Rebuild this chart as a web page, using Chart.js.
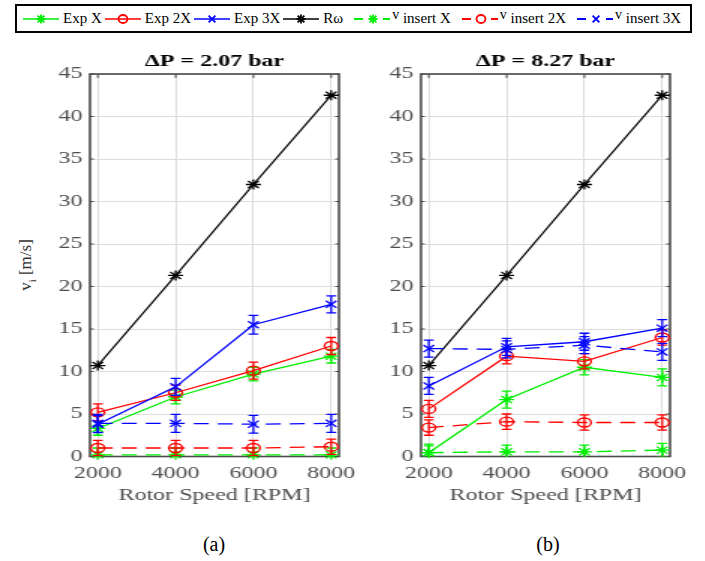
<!DOCTYPE html>
<html>
<head>
<meta charset="utf-8">
<title>Insert velocity vs rotor speed</title>
<script src="https://cdn.jsdelivr.net/npm/chart.js@4.4.1/dist/chart.umd.min.js"></script>
<style>
  html, body { margin: 0; padding: 0; background: #fff; }
  #fig { position: relative; width: 705px; height: 561px; overflow: hidden;
         font-family: "Liberation Serif", "Times New Roman", serif; color: #000; }
  .panel { position: absolute; top: 45px; width: 250px; height: 465px;
           transform: scaleX(1.5); transform-origin: 0 0; }
  .panel canvas { display: block; }
  #panelA { left: 0; }
  #panelB { left: 331px; }
  #legend { position: absolute; left: 15px; top: 4px; width: 677px; height: 29px;
            box-sizing: border-box; border: 2px solid #000; display: flex;
            align-items: center; padding-left: 6px; font-size: 15px; white-space: nowrap; }
  .item { display: flex; align-items: center; margin-right: 3px; }
  .item svg { margin-right: 4px; }
  .item.dashed svg { margin-right: 2px; }
  .vsym { position: relative; top: -4px; font-size: 14px; }
  #ylabel { position: absolute; left: 27px; top: 265px; transform: translate(-50%, -50%) rotate(-90deg);
            white-space: nowrap; font-size: 17px; color: #333; }
  #ylabel sub { font-size: 11px; }
  .caption { position: absolute; top: 533px; font-size: 20px; transform: translateX(-50%); }
</style>
</head>
<body>
<div id="fig">
  <div id="legend"></div>
  <div id="ylabel">v<sub>i</sub> [m/s]</div>
  <div class="panel" id="panelA"><canvas id="chartA" width="250" height="465"></canvas></div>
  <div class="panel" id="panelB"><canvas id="chartB" width="250" height="465"></canvas></div>
  <div class="caption" style="left:214px">(a)</div>
  <div class="caption" style="left:548px">(b)</div>
</div>
<script>
// Rotor speeds and axis ticks
const rpm = [2000, 4000, 6000, 8000];
const xTickLabels = ['2000', '4000', '6000', '8000'];
const yTicks = [0, 5, 10, 15, 20, 25, 30, 35, 40, 45];

// Series names
const seriesNames = ['Exp X', 'Exp 2X', 'Exp 3X', 'R\u03C9', 'insert X', 'insert 2X', 'insert 3X'];
const panelTitles = ['\u0394P = 2.07 bar', '\u0394P = 8.27 bar'];

// Tangential speed of the rotor surface (same for both pressures)
const rOmega = [10.7, 21.3, 32.0, 42.5];

// Panel (a): dP = 2.07 bar
const expX_A = [3.3, 7.0, 9.7, 11.8];
const expX_A_err = [0.8, 0.8, 0.8, 0.8];
const exp2X_A = [5.2, 7.5, 10.1, 13.0];
const exp2X_A_err = [1.0, 0.9, 1.0, 1.0];
const exp3X_A = [3.8, 8.2, 15.5, 17.9];
const exp3X_A_err = [1.0, 1.0, 1.1, 1.0];
const insX_A = [0.2, 0.2, 0.2, 0.2];
const insX_A_err = [0.8, 0.8, 0.8, 0.8];
const ins2X_A = [1.0, 1.0, 1.0, 1.15];
const ins2X_A_err = [0.9, 0.9, 0.9, 0.9];
const ins3X_A = [3.9, 3.9, 3.8, 3.9];
const ins3X_A_err = [1.05, 1.05, 1.05, 1.05];

// Panel (b): dP = 8.27 bar
const expX_B = [0.45, 6.7, 10.5, 9.3];
const expX_B_err = [1.0, 1.0, 0.9, 1.0];
const exp2X_B = [5.6, 11.8, 11.2, 14.0];
const exp2X_B_err = [1.0, 0.9, 0.9, 0.9];
const exp3X_B = [8.3, 12.9, 13.5, 15.1];
const exp3X_B_err = [1.0, 1.0, 1.0, 1.0];
const insX_B = [0.45, 0.55, 0.55, 0.75];
const insX_B_err = [0.8, 0.8, 0.8, 0.8];
const ins2X_B = [3.4, 4.1, 4.0, 4.0];
const ins2X_B_err = [0.9, 0.9, 0.9, 0.9];
const ins3X_B = [12.7, 12.6, 13.1, 12.3];
const ins3X_B_err = [1.0, 1.0, 1.0, 1.0];

const SERIF = '"Liberation Serif", "Times New Roman", serif';
const GREEN = '#00ee00', RED = '#ff0000', BLUE = '#0000ff', BLACK = '#000000';
const TICK_COLOR = '#4d4d4d';
const GRID_COLOR = '#dcdcdc';

// Line / marker style of each series, in legend order
const styles = [
  { color: GREEN, marker: 'star',     dashed: false },
  { color: RED,   marker: 'circle',   dashed: false },
  { color: BLUE,  marker: 'crossRot', dashed: false },
  { color: BLACK, marker: 'star',     dashed: false },
  { color: GREEN, marker: 'star',     dashed: true },
  { color: RED,   marker: 'circle',   dashed: true },
  { color: BLUE,  marker: 'crossRot', dashed: true }
];

function toPoints(values) {
  return rpm.map((r, i) => ({ x: r, y: values[i] }));
}

function buildDatasets(list) {
  // list: [values, errors] per series, in legend order
  return list.map(([values, errors], i) => {
    const st = styles[i];
    return {
      label: seriesNames[i],
      data: toPoints(values),
      errors: errors,
      borderColor: st.color,
      backgroundColor: 'rgba(0,0,0,0)',
      pointBackgroundColor: 'rgba(0,0,0,0)',
      pointBorderColor: st.color,
      pointStyle: st.marker,
      pointRadius: st.marker === 'circle' ? 4.5 : 5,
      pointBorderWidth: 1.3,
      borderWidth: 1.3,
      borderDash: st.dashed ? [10, 6] : [],
      tension: 0,
      clip: false,
      order: 10 - i
    };
  });
}

// Vertical error bars with caps
const errorBars = {
  id: 'errorBars',
  afterDatasetDraw(chart, args) {
    const ds = chart.data.datasets[args.index];
    if (!ds.errors) return;
    const { ctx, chartArea: a } = chart;
    const xs = chart.scales.x, ys = chart.scales.y;
    ctx.save();
    ctx.beginPath();
    ctx.rect(a.left, a.top, a.right - a.left, a.bottom - a.top);
    ctx.clip();
    ctx.strokeStyle = ds.borderColor;
    ctx.lineWidth = 1.3;
    ctx.setLineDash([]);
    const cap = 3.3;
    ds.data.forEach((p, i) => {
      const e = ds.errors[i];
      const px = xs.getPixelForValue(p.x);
      const top = ys.getPixelForValue(p.y + e);
      const bot = ys.getPixelForValue(p.y - e);
      ctx.beginPath();
      ctx.moveTo(px, top); ctx.lineTo(px, bot);
      ctx.moveTo(px - cap, top); ctx.lineTo(px + cap, top);
      ctx.moveTo(px - cap, bot); ctx.lineTo(px + cap, bot);
      ctx.stroke();
    });
    ctx.restore();
  }
};

// Axes box with inward tick marks
const axesBox = {
  id: 'axesBox',
  beforeDatasetsDraw(chart) {
    const { ctx, chartArea: a } = chart;
    const xs = chart.scales.x, ys = chart.scales.y;
    ctx.save();
    ctx.strokeStyle = '#4a4a4a';
    ctx.lineWidth = 1;
    ctx.beginPath();
    xs.ticks.forEach(t => {
      const px = xs.getPixelForValue(t.value);
      ctx.moveTo(px, a.top); ctx.lineTo(px, a.top + 4);
      ctx.moveTo(px, a.bottom); ctx.lineTo(px, a.bottom - 4);
    });
    ys.ticks.forEach(t => {
      const py = ys.getPixelForValue(t.value);
      ctx.moveTo(a.left, py); ctx.lineTo(a.left + 2.5, py);
      ctx.moveTo(a.right, py); ctx.lineTo(a.right - 2.5, py);
    });
    ctx.stroke();
    ctx.lineWidth = 1.6;
    ctx.strokeRect(a.left, a.top, a.right - a.left, a.bottom - a.top);
    ctx.restore();
  }
};

function makePanel(canvasId, title, list) {
  return new Chart(document.getElementById(canvasId), {
    type: 'line',
    data: { datasets: buildDatasets(list) },
    options: {
      responsive: false,
      animation: false,
      devicePixelRatio: 1,
      layout: { padding: { left: 0, right: 24, top: 0, bottom: 0 } },
      plugins: {
        legend: { display: false },
        tooltip: { enabled: false },
        title: { display: false }
      },
      scales: {
        // top axis only carries the panel heading, centred over the plot box
        top: {
          type: 'linear', position: 'top', min: 1800, max: 8200,
          afterFit: s => { s.height = 29; s.paddingLeft = 0; s.paddingRight = 0; },
          border: { display: false },
          grid: { display: false, drawTicks: false },
          ticks: { display: false },
          title: {
            display: true, text: title, color: '#000',
            font: { family: SERIF, size: 16, weight: 'bold' },
            padding: { top: 7.5, bottom: 0 }
          }
        },
        x: {
          type: 'linear', min: 1800, max: 8200,
          afterBuildTicks: s => { s.ticks = rpm.map(v => ({ value: v })); },
          afterFit: s => { s.height = 53.5; s.paddingLeft = 0; s.paddingRight = 0; },
          border: { display: false },
          grid: { color: GRID_COLOR, lineWidth: 1, drawTicks: false },
          ticks: {
            padding: 8, color: TICK_COLOR, maxRotation: 0, autoSkip: false,
            font: { family: SERIF, size: 16 },
            callback: (v, i) => xTickLabels[i]
          },
          title: {
            display: true, text: 'Rotor Speed [RPM]', color: TICK_COLOR,
            font: { family: SERIF, size: 16 }, padding: { top: 4, bottom: 5 }
          }
        },
        y: {
          min: 0, max: 45,
          afterBuildTicks: s => { s.ticks = yTicks.map(v => ({ value: v })); },
          afterFit: s => { s.width = 60; s.paddingTop = 0; s.paddingBottom = 0; },
          border: { display: false },
          grid: { color: GRID_COLOR, lineWidth: 1, drawTicks: false },
          ticks: {
            padding: 5, color: TICK_COLOR,
            font: { family: SERIF, size: 16 },
            callback: v => String(v)
          }
        }
      }
    },
    plugins: [axesBox, errorBars]
  });
}

// Shared legend across the top
function markerSvg(kind, cx, cy, color) {
  const r = 4.5;
  if (kind === 'circle') {
    return `<ellipse cx="${cx}" cy="${cy}" rx="${r}" ry="${r - 0.5}" fill="none" stroke="${color}" stroke-width="1.8"/>`;
  }
  const d = r * 0.75;
  let p = '';
  if (kind === 'star') {
    p += `M${cx - r} ${cy}H${cx + r}M${cx} ${cy - r}V${cy + r}`;
  }
  p += `M${cx - d} ${cy - d}L${cx + d} ${cy + d}M${cx - d} ${cy + d}L${cx + d} ${cy - d}`;
  return `<path d="${p}" stroke="${color}" stroke-width="1.8" fill="none"/>`;
}

function buildLegend() {
  const legend = document.getElementById('legend');
  seriesNames.forEach((name, i) => {
    const st = styles[i];
    const item = document.createElement('div');
    item.className = 'item' + (st.dashed ? ' dashed' : '');
    let svg;
    if (st.dashed) {
      svg = `<svg width="44" height="14" viewBox="0 0 44 14">
        <path d="M8 7H17M37 7H44" stroke="${st.color}" stroke-width="2"/>
        ${markerSvg(st.marker, 27, 7, st.color)}</svg>`;
    } else {
      svg = `<svg width="36" height="14" viewBox="0 0 36 14">
        <path d="M0 7H36" stroke="${st.color}" stroke-width="1.6"/>
        ${markerSvg(st.marker, 18, 7, st.color)}</svg>`;
    }
    const text = st.dashed ? `<span class="vsym">v</span>&nbsp;${name}` : name;
    item.innerHTML = svg + `<span>${text}</span>`;
    legend.appendChild(item);
  });
}

function drawAll() {
  makePanel('chartA', panelTitles[0], [
    [expX_A, expX_A_err], [exp2X_A, exp2X_A_err], [exp3X_A, exp3X_A_err], [rOmega, null],
    [insX_A, insX_A_err], [ins2X_A, ins2X_A_err], [ins3X_A, ins3X_A_err]
  ]);
  makePanel('chartB', panelTitles[1], [
    [expX_B, expX_B_err], [exp2X_B, exp2X_B_err], [exp3X_B, exp3X_B_err], [rOmega, null],
    [insX_B, insX_B_err], [ins2X_B, ins2X_B_err], [ins3X_B, ins3X_B_err]
  ]);
}

buildLegend();
// Make sure the serif face is ready before the canvases measure text
Promise.all([
  document.fonts.load('16px "Liberation Serif"'),
  document.fonts.load('bold 16px "Liberation Serif"')
]).then(drawAll, drawAll);
</script>
</body>
</html>
